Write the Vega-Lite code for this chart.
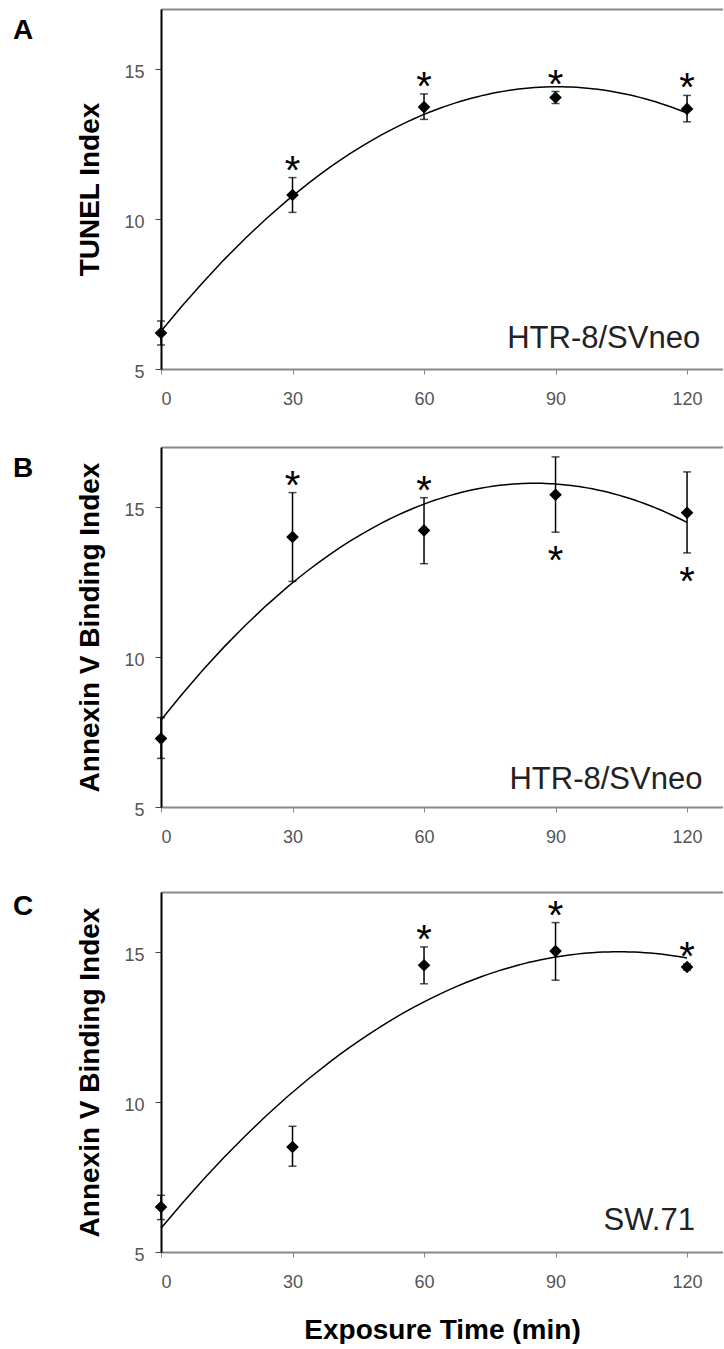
{
  "$schema": "https://vega.github.io/schema/vega-lite/v6.json",
  "padding": {"left": 13, "top": 9, "right": 0, "bottom": 0},
  "background": "white",
  "spacing": 39,
  "config": {
    "font": "Liberation Sans",
    "view": {"stroke": null},
    "title": {"fontSize": 28, "fontWeight": "bold", "color": "#000", "anchor": "start", "frame": "group", "orient": "top", "baseline": "alphabetic", "dx": -148, "offset": -36},
    "axis": {"grid": false, "labelFont": "Liberation Sans", "labelFontSize": 18, "labelColor": "#555", "titleFont": "Liberation Sans"}
  },
  "datasets": {
    "A": [
      {"time": 0, "mean": 6.2, "lo": 5.8, "hi": 6.6, "sig": "none"},
      {"time": 30, "mean": 10.8, "lo": 10.22, "hi": 11.38, "sig": "above"},
      {"time": 60, "mean": 13.73, "lo": 13.32, "hi": 14.17, "sig": "above"},
      {"time": 90, "mean": 14.05, "lo": 13.85, "hi": 14.25, "sig": "above"},
      {"time": 120, "mean": 13.67, "lo": 13.24, "hi": 14.12, "sig": "above"}
    ],
    "B": [
      {"time": 0, "mean": 7.28, "lo": 6.62, "hi": 7.98, "sig": "none"},
      {"time": 30, "mean": 14.0, "lo": 12.52, "hi": 15.48, "sig": "above"},
      {"time": 60, "mean": 14.22, "lo": 13.11, "hi": 15.31, "sig": "above"},
      {"time": 90, "mean": 15.41, "lo": 14.16, "hi": 16.67, "sig": "below"},
      {"time": 120, "mean": 14.81, "lo": 13.47, "hi": 16.17, "sig": "below"}
    ],
    "C": [
      {"time": 0, "mean": 6.5, "lo": 6.08, "hi": 6.89, "sig": "none"},
      {"time": 30, "mean": 8.5, "lo": 7.86, "hi": 9.19, "sig": "none"},
      {"time": 60, "mean": 14.56, "lo": 13.94, "hi": 15.17, "sig": "above"},
      {"time": 90, "mean": 15.03, "lo": 14.06, "hi": 15.98, "sig": "above"},
      {"time": 120, "mean": 14.5, "lo": 14.4, "hi": 14.6, "sig": "above"}
    ]
  },
  "vconcat": [
    {
      "title": {"text": "A"},
      "width": 562, "height": 360,
      "data": {"name": "A"},
      "resolve": {"axis": {"x": "independent", "y": "independent"}},
      "layer": [
        {"mark": {"type": "line", "color": "#000", "strokeWidth": 1.5},
         "transform": [{"regression": "mean", "on": "time", "method": "poly", "order": 2}],
         "encoding": {
           "x": {"field": "time", "type": "quantitative", "scale": {"domain": [0, 128.2], "nice": false, "zero": false},
                 "axis": {"orient": "bottom", "values": [0, 30, 60, 90, 120], "title": null, "tickSize": 5, "tickColor": "#888", "domainColor": "#888", "domainWidth": 2, "labelPadding": 16}},
           "y": {"field": "mean", "type": "quantitative", "scale": {"domain": [5, 17], "nice": false, "zero": false},
                 "axis": {"values": [5, 10, 15], "title": "TUNEL Index", "titleFontSize": 28, "titleFontWeight": "bold", "titleColor": "#000", "titleX": -63, "titleY": 180, "titleAngle": -90, "titleBaseline": "alphabetic", "titleAlign": "center", "tickSize": 6, "tickColor": "#444", "domainColor": "#000", "domainWidth": 2, "labelPadding": 11, "labelOffset": 3}}
         }},
        {"mark": {"type": "rule", "color": "#000", "strokeWidth": 1.5},
         "encoding": {
           "x": {"field": "time", "type": "quantitative", "scale": {"domain": [0, 128.2], "nice": false, "zero": false},
                 "axis": {"orient": "top", "labels": false, "ticks": false, "title": null, "domainColor": "#888", "domainWidth": 2, "minExtent": 0}},
           "y": {"field": "lo", "type": "quantitative", "scale": {"domain": [5, 17], "nice": false, "zero": false}, "axis": null},
           "y2": {"field": "hi"}
         }},
        {"mark": {"type": "tick", "orient": "horizontal", "color": "#000", "size": 8, "thickness": 1.5},
         "encoding": {
           "x": {"field": "time", "type": "quantitative", "scale": {"domain": [0, 128.2], "nice": false, "zero": false}, "axis": null},
           "y": {"field": "lo", "type": "quantitative", "scale": {"domain": [5, 17], "nice": false, "zero": false}, "axis": null}
         }},
        {"mark": {"type": "tick", "orient": "horizontal", "color": "#000", "size": 8, "thickness": 1.5},
         "encoding": {
           "x": {"field": "time", "type": "quantitative", "scale": {"domain": [0, 128.2], "nice": false, "zero": false}, "axis": null},
           "y": {"field": "hi", "type": "quantitative", "scale": {"domain": [5, 17], "nice": false, "zero": false}, "axis": null}
         }},
        {"mark": {"type": "point", "shape": "diamond", "filled": true, "color": "#000", "size": 160, "opacity": 1},
         "encoding": {
           "x": {"field": "time", "type": "quantitative", "scale": {"domain": [0, 128.2], "nice": false, "zero": false}, "axis": null},
           "y": {"field": "mean", "type": "quantitative", "scale": {"domain": [5, 17], "nice": false, "zero": false}, "axis": null}
         }},
        {"transform": [{"filter": "datum.sig == 'above'"}],
         "mark": {"type": "text", "text": "*", "fontSize": 40, "baseline": "alphabetic", "dy": 6, "color": "#000"},
         "encoding": {
           "x": {"field": "time", "type": "quantitative", "scale": {"domain": [0, 128.2], "nice": false, "zero": false}, "axis": null},
           "y": {"field": "hi", "type": "quantitative", "scale": {"domain": [5, 17], "nice": false, "zero": false}, "axis": null}
         }},
        {"data": {"values": [{"cell": "HTR-8/SVneo"}]},
         "mark": {"type": "text", "align": "right", "baseline": "alphabetic", "fontSize": 31, "color": "#222"},
         "encoding": {
           "text": {"field": "cell"},
           "x": {"datum": 123, "type": "quantitative", "scale": {"domain": [0, 128.2], "nice": false, "zero": false}, "axis": null},
           "y": {"datum": 5.7, "type": "quantitative", "scale": {"domain": [5, 17], "nice": false, "zero": false}, "axis": null}
         }}
      ]
    },
    {
      "title": {"text": "B"},
      "width": 562, "height": 360,
      "data": {"name": "B"},
      "resolve": {"axis": {"x": "independent", "y": "independent"}},
      "layer": [
        {"mark": {"type": "line", "color": "#000", "strokeWidth": 1.5},
         "transform": [{"regression": "mean", "on": "time", "method": "poly", "order": 2}],
         "encoding": {
           "x": {"field": "time", "type": "quantitative", "scale": {"domain": [0, 128.2], "nice": false, "zero": false},
                 "axis": {"orient": "bottom", "values": [0, 30, 60, 90, 120], "title": null, "tickSize": 5, "tickColor": "#888", "domainColor": "#888", "domainWidth": 2, "labelPadding": 16}},
           "y": {"field": "mean", "type": "quantitative", "scale": {"domain": [5, 17], "nice": false, "zero": false},
                 "axis": {"values": [5, 10, 15], "title": "Annexin V Binding Index", "titleFontSize": 28, "titleFontWeight": "bold", "titleColor": "#000", "titleX": -63, "titleY": 180, "titleAngle": -90, "titleBaseline": "alphabetic", "titleAlign": "center", "tickSize": 6, "tickColor": "#444", "domainColor": "#000", "domainWidth": 2, "labelPadding": 11, "labelOffset": 3}}
         }},
        {"mark": {"type": "rule", "color": "#000", "strokeWidth": 1.5},
         "encoding": {
           "x": {"field": "time", "type": "quantitative", "scale": {"domain": [0, 128.2], "nice": false, "zero": false},
                 "axis": {"orient": "top", "labels": false, "ticks": false, "title": null, "domainColor": "#888", "domainWidth": 2, "minExtent": 0}},
           "y": {"field": "lo", "type": "quantitative", "scale": {"domain": [5, 17], "nice": false, "zero": false}, "axis": null},
           "y2": {"field": "hi"}
         }},
        {"mark": {"type": "tick", "orient": "horizontal", "color": "#000", "size": 8, "thickness": 1.5},
         "encoding": {
           "x": {"field": "time", "type": "quantitative", "scale": {"domain": [0, 128.2], "nice": false, "zero": false}, "axis": null},
           "y": {"field": "lo", "type": "quantitative", "scale": {"domain": [5, 17], "nice": false, "zero": false}, "axis": null}
         }},
        {"mark": {"type": "tick", "orient": "horizontal", "color": "#000", "size": 8, "thickness": 1.5},
         "encoding": {
           "x": {"field": "time", "type": "quantitative", "scale": {"domain": [0, 128.2], "nice": false, "zero": false}, "axis": null},
           "y": {"field": "hi", "type": "quantitative", "scale": {"domain": [5, 17], "nice": false, "zero": false}, "axis": null}
         }},
        {"mark": {"type": "point", "shape": "diamond", "filled": true, "color": "#000", "size": 160, "opacity": 1},
         "encoding": {
           "x": {"field": "time", "type": "quantitative", "scale": {"domain": [0, 128.2], "nice": false, "zero": false}, "axis": null},
           "y": {"field": "mean", "type": "quantitative", "scale": {"domain": [5, 17], "nice": false, "zero": false}, "axis": null}
         }},
        {"transform": [{"filter": "datum.sig == 'above'"}],
         "mark": {"type": "text", "text": "*", "fontSize": 40, "baseline": "alphabetic", "dy": 6, "color": "#000"},
         "encoding": {
           "x": {"field": "time", "type": "quantitative", "scale": {"domain": [0, 128.2], "nice": false, "zero": false}, "axis": null},
           "y": {"field": "hi", "type": "quantitative", "scale": {"domain": [5, 17], "nice": false, "zero": false}, "axis": null}
         }},
        {"transform": [{"filter": "datum.sig == 'below'"}],
         "mark": {"type": "text", "text": "*", "fontSize": 40, "baseline": "alphabetic", "dy": 42, "color": "#000"},
         "encoding": {
           "x": {"field": "time", "type": "quantitative", "scale": {"domain": [0, 128.2], "nice": false, "zero": false}, "axis": null},
           "y": {"field": "lo", "type": "quantitative", "scale": {"domain": [5, 17], "nice": false, "zero": false}, "axis": null}
         }},
        {"data": {"values": [{"cell": "HTR-8/SVneo"}]},
         "mark": {"type": "text", "align": "right", "baseline": "alphabetic", "fontSize": 31, "color": "#222"},
         "encoding": {
           "text": {"field": "cell"},
           "x": {"datum": 123.5, "type": "quantitative", "scale": {"domain": [0, 128.2], "nice": false, "zero": false}, "axis": null},
           "y": {"datum": 5.6, "type": "quantitative", "scale": {"domain": [5, 17], "nice": false, "zero": false}, "axis": null}
         }}
      ]
    },
    {
      "title": {"text": "C"},
      "width": 562, "height": 360,
      "data": {"name": "C"},
      "resolve": {"axis": {"x": "independent", "y": "independent"}},
      "layer": [
        {"mark": {"type": "line", "color": "#000", "strokeWidth": 1.5},
         "transform": [{"regression": "mean", "on": "time", "method": "poly", "order": 2}],
         "encoding": {
           "x": {"field": "time", "type": "quantitative", "scale": {"domain": [0, 128.2], "nice": false, "zero": false},
                 "axis": {"orient": "bottom", "values": [0, 30, 60, 90, 120], "title": "Exposure Time (min)", "titleFontSize": 28, "titleFontWeight": "bold", "titleColor": "#000", "titlePadding": 25, "tickSize": 5, "tickColor": "#888", "domainColor": "#888", "domainWidth": 2, "labelPadding": 16}},
           "y": {"field": "mean", "type": "quantitative", "scale": {"domain": [5, 17], "nice": false, "zero": false},
                 "axis": {"values": [5, 10, 15], "title": "Annexin V Binding Index", "titleFontSize": 28, "titleFontWeight": "bold", "titleColor": "#000", "titleX": -63, "titleY": 180, "titleAngle": -90, "titleBaseline": "alphabetic", "titleAlign": "center", "tickSize": 6, "tickColor": "#444", "domainColor": "#000", "domainWidth": 2, "labelPadding": 11, "labelOffset": 3}}
         }},
        {"mark": {"type": "rule", "color": "#000", "strokeWidth": 1.5},
         "encoding": {
           "x": {"field": "time", "type": "quantitative", "scale": {"domain": [0, 128.2], "nice": false, "zero": false},
                 "axis": {"orient": "top", "labels": false, "ticks": false, "title": null, "domainColor": "#888", "domainWidth": 2, "minExtent": 7}},
           "y": {"field": "lo", "type": "quantitative", "scale": {"domain": [5, 17], "nice": false, "zero": false}, "axis": null},
           "y2": {"field": "hi"}
         }},
        {"mark": {"type": "tick", "orient": "horizontal", "color": "#000", "size": 8, "thickness": 1.5},
         "encoding": {
           "x": {"field": "time", "type": "quantitative", "scale": {"domain": [0, 128.2], "nice": false, "zero": false}, "axis": null},
           "y": {"field": "lo", "type": "quantitative", "scale": {"domain": [5, 17], "nice": false, "zero": false}, "axis": null}
         }},
        {"mark": {"type": "tick", "orient": "horizontal", "color": "#000", "size": 8, "thickness": 1.5},
         "encoding": {
           "x": {"field": "time", "type": "quantitative", "scale": {"domain": [0, 128.2], "nice": false, "zero": false}, "axis": null},
           "y": {"field": "hi", "type": "quantitative", "scale": {"domain": [5, 17], "nice": false, "zero": false}, "axis": null}
         }},
        {"mark": {"type": "point", "shape": "diamond", "filled": true, "color": "#000", "size": 160, "opacity": 1},
         "encoding": {
           "x": {"field": "time", "type": "quantitative", "scale": {"domain": [0, 128.2], "nice": false, "zero": false}, "axis": null},
           "y": {"field": "mean", "type": "quantitative", "scale": {"domain": [5, 17], "nice": false, "zero": false}, "axis": null}
         }},
        {"transform": [{"filter": "datum.sig == 'above'"}],
         "mark": {"type": "text", "text": "*", "fontSize": 40, "baseline": "alphabetic", "dy": 6, "color": "#000"},
         "encoding": {
           "x": {"field": "time", "type": "quantitative", "scale": {"domain": [0, 128.2], "nice": false, "zero": false}, "axis": null},
           "y": {"field": "hi", "type": "quantitative", "scale": {"domain": [5, 17], "nice": false, "zero": false}, "axis": null}
         }},
        {"data": {"values": [{"cell": "SW.71"}]},
         "mark": {"type": "text", "align": "right", "baseline": "alphabetic", "fontSize": 31, "color": "#222"},
         "encoding": {
           "text": {"field": "cell"},
           "x": {"datum": 121.8, "type": "quantitative", "scale": {"domain": [0, 128.2], "nice": false, "zero": false}, "axis": null},
           "y": {"datum": 5.73, "type": "quantitative", "scale": {"domain": [5, 17], "nice": false, "zero": false}, "axis": null}
         }}
      ]
    }
  ]
}
